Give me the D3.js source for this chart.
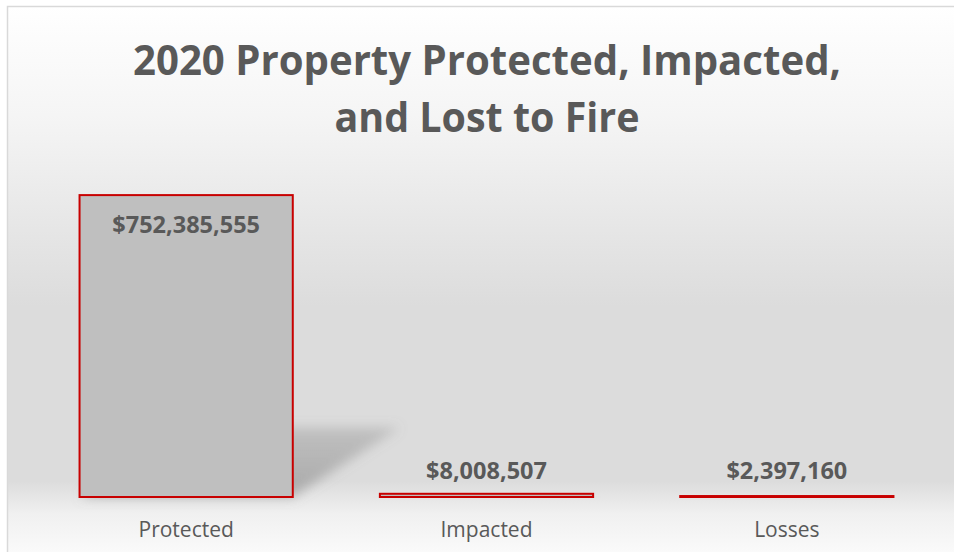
<!DOCTYPE html>
<html>
<head>
<meta charset="utf-8">
<script src="https://cdn.jsdelivr.net/npm/d3@7"></script>
<style>
  html, body { margin: 0; padding: 0; background: #fff; }
  svg { display: block; }
</style>
</head>
<body>
<div id="chart"></div>
<script>
// data
const categories = ['Protected', 'Impacted', 'Losses'];
const values = [752385555, 8008507, 2397160];
const titleLines = ['2020 Property Protected, Impacted,', 'and Lost to Fire'];

const width = 954;
const height = 552;
const textColor = '#595959';

const svg = d3.select('#chart').append('svg')
    .attr('width', width)
    .attr('height', height);

const defs = svg.append('defs');

// 背景渐变
const grad = defs.append('linearGradient')
    .attr('id', 'bg')
    .attr('gradientUnits', 'userSpaceOnUse')
    .attr('x1', 0).attr('y1', 6)
    .attr('x2', 0).attr('y2', 552);
[[0, '#ffffff'], [0.2, '#f5f5f5'], [0.55, '#dcdcdc'], [0.87, '#dcdcdc'], [0.93, '#f0f0f0'], [1, '#fafafa']]
    .forEach(s => grad.append('stop').attr('offset', s[0]).attr('stop-color', s[1]));

const blur = defs.append('filter')
    .attr('id', 'blur')
    .attr('x', '-20%').attr('y', '-20%')
    .attr('width', '140%').attr('height', '140%');
blur.append('feGaussianBlur').attr('stdDeviation', 6);

// 阴影从底部向上渐隐
const shadeGrad = defs.append('linearGradient')
    .attr('id', 'shade')
    .attr('x1', 0).attr('y1', 1)
    .attr('x2', 0).attr('y2', 0);
shadeGrad.append('stop').attr('offset', 0).attr('stop-color', '#7f7f7f').attr('stop-opacity', 0.55);
shadeGrad.append('stop').attr('offset', 1).attr('stop-color', '#7f7f7f').attr('stop-opacity', 0.3);

svg.append('rect')
    .attr('x', 7.5).attr('y', 6.5)
    .attr('width', width + 20).attr('height', height + 20)
    .attr('fill', 'url(#bg)')
    .attr('stroke', '#d9d9d9')
    .attr('stroke-width', 1.5);

// 标题
svg.append('g')
    .selectAll('text')
    .data(titleLines)
    .join('text')
    .attr('x', 487)
    .attr('y', (d, i) => 75 + i * 57)
    .attr('text-anchor', 'middle')
    .attr('font-family', '"Open Sans", sans-serif')
    .attr('font-weight', 700)
    .attr('font-size', 42)
    .attr('fill', textColor)
    .attr('textLength', (d, i) => i === 0 ? 708 : 305)
    .attr('lengthAdjust', 'spacingAndGlyphs')
    .text(d => d);

// scales
const x = d3.scaleBand()
    .domain(categories)
    .range([36, 937])
    .paddingInner(0.29)
    .paddingOuter(0.145);

const y = d3.scaleLinear()
    .domain([0, 800000000])
    .range([497, 176]);

const data = categories.map((c, i) => ({ cat: c, value: values[i] }));
const fmt = d3.format('$,');

// 透视阴影
svg.append('g')
    .selectAll('polygon')
    .data(data)
    .join('polygon')
    .attr('points', d => {
        const x0 = x(d.cat), x1 = x0 + x.bandwidth();
        const h = y(0) - y(d.value);
        const dx = h * 0.355, dy = h * 0.23;
        return [[x0, y(0)], [x1, y(0)], [x1 + dx, y(0) - dy], [x0 + dx, y(0) - dy]].join(' ');
    })
    .attr('fill', 'url(#shade)')
    .attr('filter', 'url(#blur)');

// bars
svg.append('g')
    .selectAll('rect')
    .data(data)
    .join('rect')
    .attr('x', d => x(d.cat))
    .attr('y', d => y(d.value))
    .attr('width', x.bandwidth())
    .attr('height', d => y(0) - y(d.value))
    .attr('fill', '#bfbfbf')
    .attr('stroke', '#c80000')
    .attr('stroke-width', 2);

// 数据标签
svg.append('g')
    .selectAll('text')
    .data(data)
    .join('text')
    .attr('x', d => x(d.cat) + x.bandwidth() / 2)
    .attr('y', d => (y(0) - y(d.value)) > 60 ? y(d.value) + 38 : 479)
    .attr('text-anchor', 'middle')
    .attr('font-family', '"Open Sans", sans-serif')
    .attr('font-weight', 700)
    .attr('font-size', 23.5)
    .attr('fill', textColor)
    .text(d => fmt(d.value));

// x axis labels
const xAxis = svg.append('g')
    .attr('transform', 'translate(0,' + y(0) + ')')
    .call(d3.axisBottom(x).tickSize(0).tickPadding(25));
xAxis.select('.domain').remove();
xAxis.selectAll('text')
    .attr('font-family', '"Open Sans", sans-serif')
    .attr('font-size', 21)
    .attr('fill', textColor);
</script>
</body>
</html>
